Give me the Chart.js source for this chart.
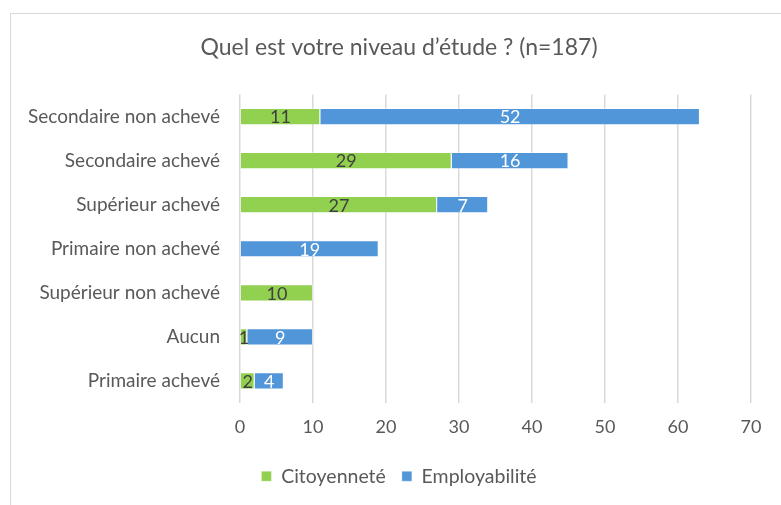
<!DOCTYPE html>
<html>
<head>
<meta charset="utf-8">
<script src="https://cdn.jsdelivr.net/npm/chart.js@4.4.1/dist/chart.umd.min.js"></script>
<style>
    html, body { margin: 0; padding: 0; background: #fff; }
    #wrap  { position: relative; width: 781px; height: 505px; overflow: hidden; }
    #frame { position: absolute; left: 10px; top: 13px; width: 800px; height: 520px; border: 1px solid #d9d9d9; }
    canvas { position: absolute; left: 0; top: 0; }
</style>
</head>
<body>
<div id="wrap">
    <div id="frame"></div>
    <canvas id="chart" width="781" height="505"></canvas>
</div>
<script>
const categories    = ["Secondaire non achevé", "Secondaire achevé", "Supérieur achevé", "Primaire non achevé", "Supérieur non achevé", "Aucun", "Primaire achevé"];
const citoyennete   = [11, 29, 27, 0, 10, 1, 2];
const employabilite = [52, 16, 7, 19, 0, 9, 4];
const xTicks        = [0, 10, 20, 30, 40, 50, 60, 70];

const FONT  = "Lato, 'Open Sans', sans-serif";
const TEXT  = "#595959";
const GRID  = "#d9d9d9";

// value labels in the middle of each segment
const segmentLabels = {
    id: "segmentLabels",
    afterDatasetsDraw(chart) {
        const ctx = chart.ctx;
        ctx.save();
        ctx.font = `18px ${FONT}`;
        ctx.textAlign = "center";
        ctx.textBaseline = "middle";
        chart.data.datasets.forEach((ds, i) => {
            chart.getDatasetMeta(i).data.forEach((bar, j) => {
                const v = ds.data[j];
                if (!v) return;
                const p = bar.getProps(["x", "y", "base"], true);
                ctx.fillStyle = ds.labelColor;
                ctx.fillText(String(v), (p.x + p.base) / 2, p.y + 1);
            });
        });
        ctx.restore();
    }
};

// long category names run left of the padded box, so widen the label clip
const unclipY = {
    id: "unclipY",
    afterLayout(chart) { chart.scales.y.left = 0; }
};

new Chart(document.getElementById("chart").getContext("2d"), {
    type: "bar",
    data: {
        labels  : categories,
        datasets: [
            { label: "Citoyenneté",   data: citoyennete,   backgroundColor: "#92d050", borderColor: "rgba(255,255,255,0.35)", borderWidth: 1, labelColor: "#404040" },
            { label: "Employabilité", data: employabilite, backgroundColor: "#5096d9", borderColor: "rgba(255,255,255,0.35)", borderWidth: 1, labelColor: "#ffffff" }
        ]
    },
    options: {
        indexAxis          : "y",
        responsive         : false,
        animation          : false,
        maintainAspectRatio: false,
        layout             : { padding: { left: 47, right: 30, top: 34, bottom: 9 } },
        datasets           : { bar: { barPercentage: 0.39, categoryPercentage: 1.0 } },
        plugins: {
            title: {
                display: true,
                text   : "Quel est votre niveau d’étude ? (n=187)",
                color  : TEXT,
                font   : { family: FONT, size: 23, weight: "normal" },
                padding: { top: 0, bottom: 33 }
            },
            legend: {
                position: "bottom",
                labels  : { color: TEXT, font: { family: FONT, size: 19.5 }, boxWidth: 10, boxHeight: 10, padding: 16 }
            },
            tooltip: { enabled: false }
        },
        scales: {
            x: {
                stacked: true,
                min    : 0,
                max    : 70,
                afterBuildTicks: s => { s.ticks = xTicks.map(v => ({ value: v })); },
                grid   : { color: GRID, lineWidth: 1.5, drawTicks: false },
                border : { display: false },
                ticks  : { color: TEXT, font: { family: FONT, size: 18 }, padding: 13 }
            },
            y: {
                stacked: true,
                grid   : { display: false },
                border : { display: false },
                afterFit: s => { s.width = 193; },
                ticks  : { color: TEXT, font: { family: FONT, size: 19 }, padding: 12 }
            }
        }
    },
    plugins: [segmentLabels, unclipY]
});
</script>
</body>
</html>
